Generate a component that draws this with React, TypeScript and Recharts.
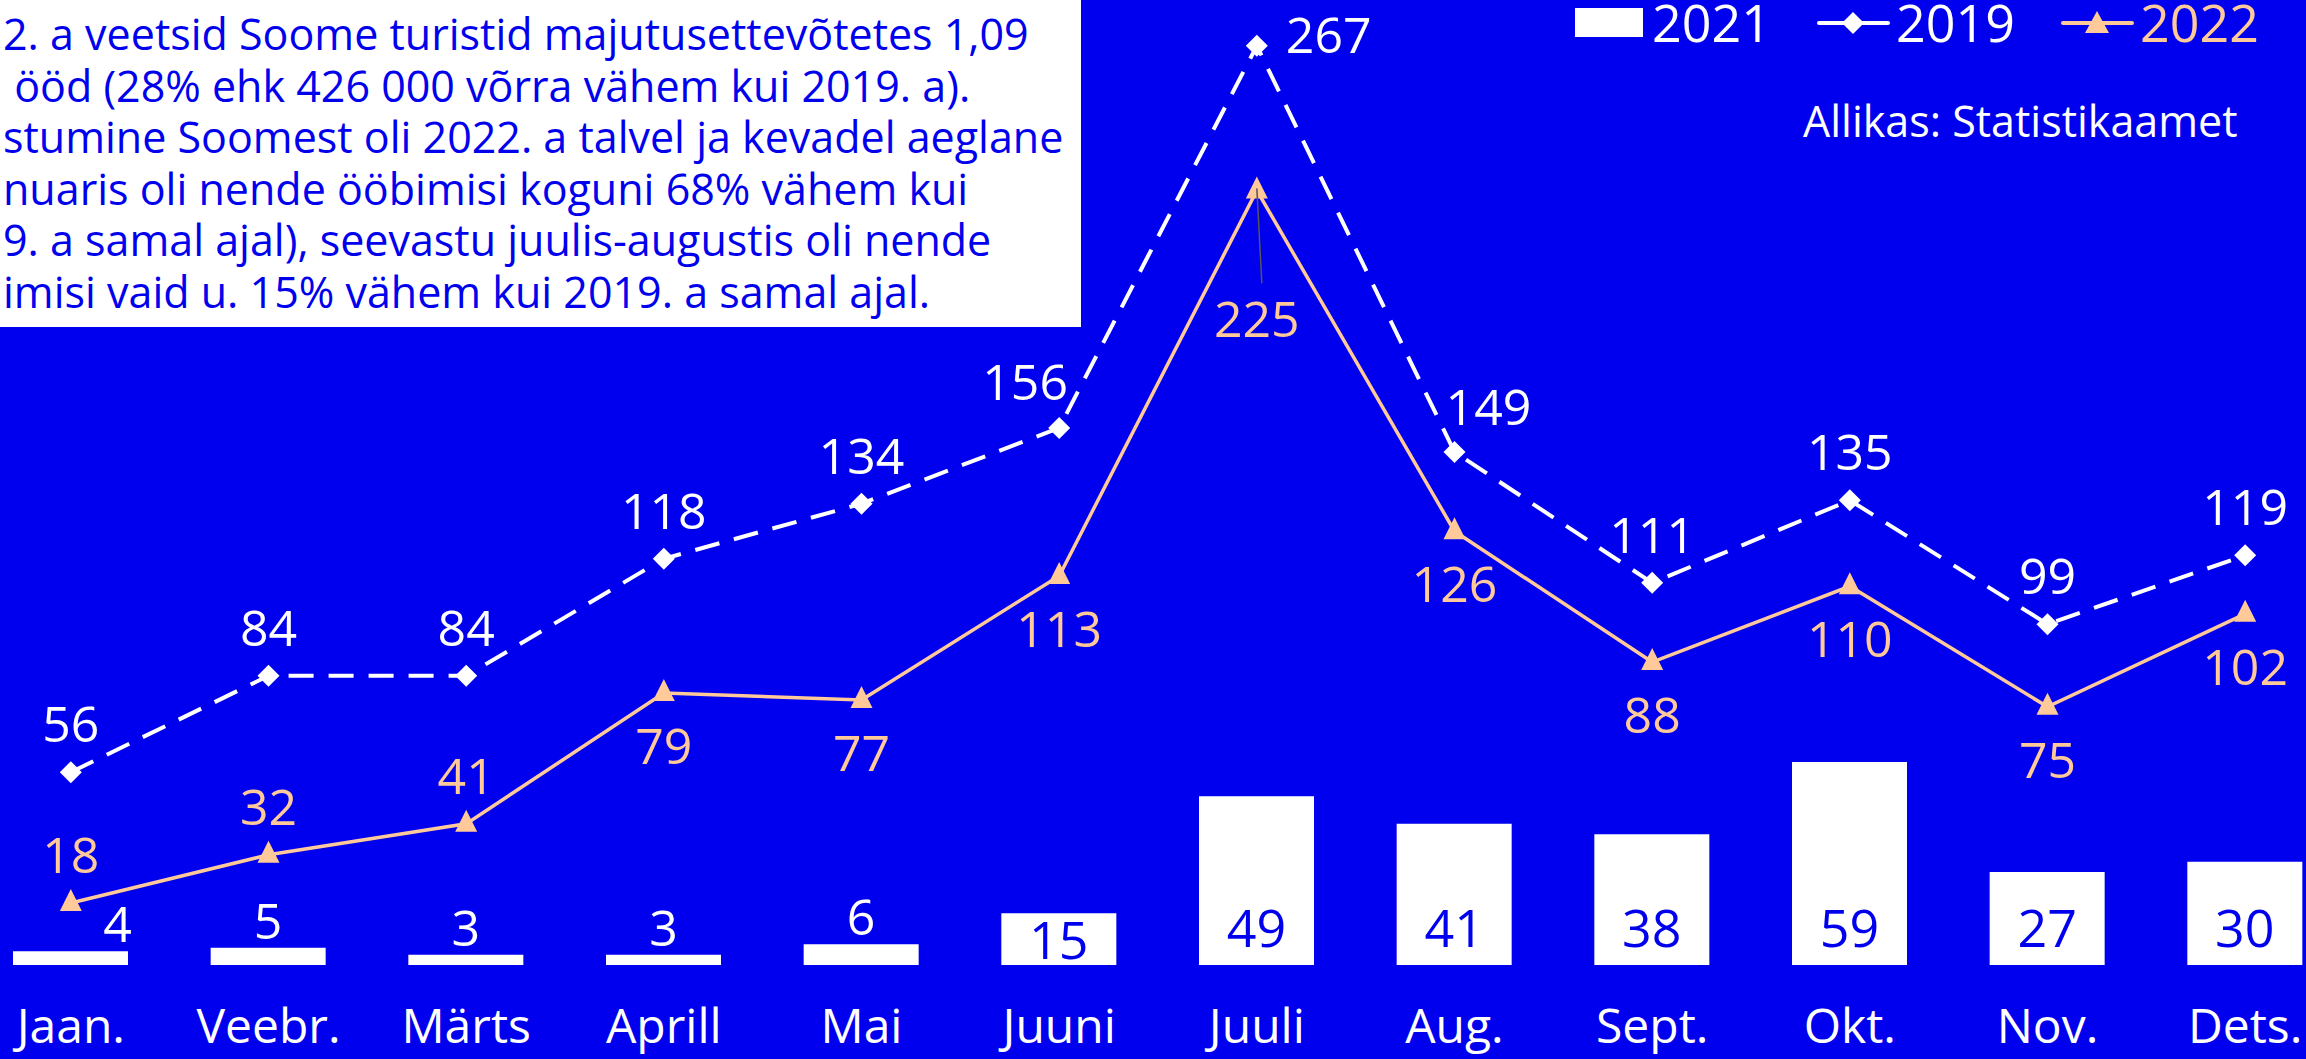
import React from 'react';
import { Bar, ComposedChart, LabelList, Line, XAxis, YAxis } from 'recharts';

const months = ['Jaan.', 'Veebr.', 'Märts', 'Aprill', 'Mai', 'Juuni', 'Juuli', 'Aug.', 'Sept.', 'Okt.', 'Nov.', 'Dets.'];
const nights2021 = [4, 5, 3, 3, 6, 15, 49, 41, 38, 59, 27, 30];
const nights2019 = [56, 84, 84, 118, 134, 156, 267, 149, 111, 135, 99, 119];
const nights2022 = [18, 32, 41, 79, 77, 113, 225, 126, 88, 110, 75, 102];

const introLines = [
  '2. a veetsid Soome turistid majutusettevõtetes 1,09',
  ' ööd (28% ehk 426 000 võrra vähem kui 2019. a).',
  'stumine Soomest oli 2022. a talvel ja kevadel aeglane',
  'nuaris oli nende ööbimisi koguni 68% vähem kui',
  '9. a samal ajal), seevastu juulis-augustis oli nende',
  'imisi vaid u. 15% vähem kui 2019. a samal ajal.',
];

const BLUE = '#0000EE';
const PEACH = '#FFC999';
const FONT = '"Open Sans", sans-serif';

// where each line label sits relative to its point
const place2019 = ['top', 'top', 'top', 'top', 'top', 'topLeft', 'right', 'topRight', 'top', 'top', 'top', 'top'];
const place2022 = ['top', 'top', 'top', 'bottom', 'bottom', 'bottom', 'leader', 'bottom', 'bottom', 'bottom', 'bottom', 'bottom'];

const data = months.map((month, i) => ({
  month,
  y2021: nights2021[i],
  y2019: nights2019[i],
  y2022: nights2022[i],
}));

const Diamond = (props: any) => {
  const { cx, cy, index } = props;
  if (cx == null || cy == null) return <g key={`d-${index}`} />;
  const r = 11;
  return <polygon key={`d-${index}`} points={`${cx},${cy - r} ${cx + r},${cy} ${cx},${cy + r} ${cx - r},${cy}`} fill='#fff' />;
};

const Triangle = (props: any) => {
  const { cx, cy, index } = props;
  if (cx == null || cy == null) return <g key={`t-${index}`} />;
  return <polygon key={`t-${index}`} points={`${cx},${cy - 14} ${cx + 11},${cy + 8} ${cx - 11},${cy + 8}`} fill={PEACH} />;
};

const lineLabel = (placement: string[], color: string) => (props: any) => {
  const { x, y, value, index } = props;
  const p = placement[index];
  let tx = x;
  let ty = y - 49;
  let anchor: 'middle' | 'start' = 'middle';
  let extra = null;
  if (p === 'bottom') ty = y + 52;
  if (p === 'right') { tx = x + 29; ty = y - 12; anchor = 'start'; }
  if (p === 'topRight') { tx = x + 34; ty = y - 46; }
  if (p === 'topLeft') { tx = x - 34; ty = y - 47; }
  if (p === 'leader') {
    ty = y + 128;
    extra = <line x1={x} y1={y - 2} x2={x + 5} y2={y + 93} stroke='#555' strokeWidth={1.5} />;
  }
  return (
    <g key={`l-${color}-${index}`}>
      {extra}
      <text x={tx} y={ty} fill={color} fontSize={50} fontFamily={FONT} textAnchor={anchor} dominantBaseline='central'>
        {value}
      </text>
    </g>
  );
};

const barLabel = (props: any) => {
  const { x, y, width, value, index } = props;
  const cx = x + width / 2;
  if (value < 10) {
    const dx = index === 0 ? 47 : 0;
    return (
      <text key={`b-${index}`} x={cx + dx} y={y - 28} fill='#fff' fontSize={50} fontFamily={FONT} textAnchor='middle' dominantBaseline='central'>
        {value}
      </text>
    );
  }
  return (
    <text key={`b-${index}`} x={cx} y={Math.max(926, y + 25)} fill={BLUE} fontSize={52} fontFamily={FONT} textAnchor='middle' dominantBaseline='central'>
      {value}
    </text>
  );
};

const App = () => {
  return (
    <div style={{ position: 'absolute', left: 0, top: 0, width: 2306, height: 1059, overflow: 'hidden', background: BLUE, fontFamily: FONT }}>
      <div style={{ position: 'absolute', left: -28, top: 0 }}>
        <ComposedChart width={2372} height={1059} data={data} margin={{ top: 10, right: 0, bottom: 0, left: 0 }}>
          <XAxis
            dataKey='month'
            axisLine={false}
            tickLine={false}
            interval={0}
            height={94}
            tickMargin={38}
            tick={{ fill: '#fff', fontSize: 48, fontFamily: FONT }}
          />
          <YAxis hide domain={[0, 277.4]} allowDataOverflow />
          <Bar dataKey='y2021' fill='#fff' barSize={115} isAnimationActive={false}>
            <LabelList dataKey='y2021' content={barLabel} />
          </Bar>
          <Line
            dataKey='y2019'
            stroke='#fff'
            strokeWidth={4}
            strokeDasharray='25 15'
            dot={Diamond}
            activeDot={false}
            isAnimationActive={false}
          >
            <LabelList dataKey='y2019' content={lineLabel(place2019, '#fff')} />
          </Line>
          <Line
            dataKey='y2022'
            stroke={PEACH}
            strokeWidth={3.5}
            dot={Triangle}
            activeDot={false}
            isAnimationActive={false}
          >
            <LabelList dataKey='y2022' content={lineLabel(place2022, PEACH)} />
          </Line>
        </ComposedChart>
      </div>
      <svg width={2306} height={1059} style={{ position: 'absolute', left: 0, top: 0, pointerEvents: 'none' }}>
        <rect x={0} y={0} width={1081} height={327} fill='#fff' />
        {introLines.map((line, i) => (
          <text key={i} x={3} y={50 + i * 51.5} fill={BLUE} fontSize={43} fontFamily={FONT} style={{ whiteSpace: 'pre' }}>
            {line}
          </text>
        ))}
        <rect x={1575} y={8} width={68} height={29} fill='#fff' />
        <text x={1652} y={42} fill='#fff' fontSize={52} fontFamily={FONT}>2021</text>
        <line x1={1819} y1={23} x2={1888} y2={23} stroke='#fff' strokeWidth={4} strokeLinecap='round' />
        <polygon points='1853,12 1864,23 1853,34 1842,23' fill='#fff' />
        <text x={1896} y={42} fill='#fff' fontSize={52} fontFamily={FONT}>2019</text>
        <line x1={2063} y1={23} x2={2132} y2={23} stroke={PEACH} strokeWidth={4} strokeLinecap='round' />
        <polygon points='2097,11 2109,33 2085,33' fill={PEACH} />
        <text x={2140} y={42} fill={PEACH} fontSize={52} fontFamily={FONT}>2022</text>
        <text x={1803} y={137} fill='#fff' fontSize={43} fontFamily={FONT}>Allikas: Statistikaamet</text>
      </svg>
    </div>
  );
};

export default App;
